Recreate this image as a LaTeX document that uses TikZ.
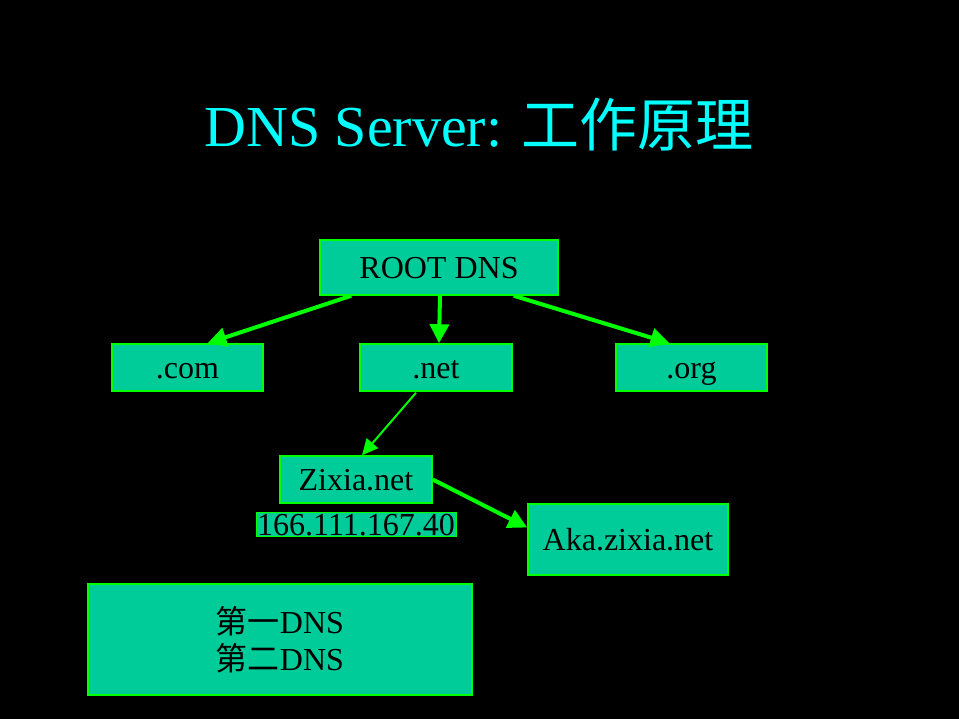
\documentclass[tikz,border=0pt]{standalone}
\usepackage{fontspec}
\setmainfont{Liberation Serif}
\newfontfamily\cjk{Noto Sans CJK SC}
\usetikzlibrary{arrows.meta,calc}
\definecolor{boxfill}{RGB}{0,204,153}
\definecolor{boxline}{RGB}{0,255,0}
\definecolor{titlecol}{RGB}{0,255,255}
\tikzset{
  dnsbox/.style={draw=boxline, line width=1.5pt, fill=boxfill, text=black, inner sep=0pt,
    font=\fontsize{32}{37}\selectfont, align=center},
  onerow/.style={text height=22pt, text depth=0pt},
  thickarrow/.style={draw=boxline, line width=4pt, -{Triangle[length=19pt 0,width=19pt 0]}},
  thinarrow/.style={draw=boxline, line width=2pt, -{Triangle[length=16pt 0,width=15pt 0]}}
}
\begin{document}
\begin{tikzpicture}[x=1pt,y=-1pt]
\fill[black] (0,0) rectangle (959,719);
\useasboundingbox (0,0) rectangle (959,719);
\node[text=titlecol, font=\fontsize{58}{66}\selectfont, anchor=base] (title) at (479,147) {DNS Server: {\cjk 工作原理}};
\node[dnsbox, onerow, minimum width=238pt, minimum height=55pt] (root) at (439,267.5) {ROOT DNS};
\node[dnsbox, onerow, minimum width=151pt, minimum height=47pt] (com) at (187.5,367.5) {.com};
\node[dnsbox, onerow, minimum width=152pt, minimum height=47pt] (net) at (436,367.5) {.net};
\node[dnsbox, onerow, minimum width=151pt, minimum height=47pt] (org) at (691.5,367.5) {.org};
\node[dnsbox, onerow, minimum width=152pt, minimum height=47pt] (zixia) at (356,479.5) {Zixia.net};
\node[dnsbox, line width=1pt, minimum width=200pt, minimum height=24pt] (ip) at (356,524) {};
\node[font=\fontsize{32}{37}\selectfont, text=black, inner sep=0pt, anchor=base] (iptext) at (356,535) {166.111.167.40};
\node[dnsbox, onerow, minimum width=200pt, minimum height=71pt] (aka) at (628,539.5) {Aka.zixia.net};
\node[dnsbox, minimum width=384pt, minimum height=111pt] (second) at (280,639.5) {{\cjk 第一}DNS\\{\cjk 第二}DNS};
\draw[thickarrow] ($(root.south west)+(32,0)$) -- ($(com.north)+(20,0)$);
\draw[thickarrow] ($(root.south)+(1,0)$) -- (root.south |- net.north);
\draw[thickarrow] ($(root.south east)+(-45,0)$) -- ($(org.north)+(-22,0)$);
\draw[thinarrow] ($(net.south)+(-20,1)$) -- ($(zixia.north)+(6,0)$);
\draw[thickarrow] ($(zixia.east)+(0,0)$) -- ($(aka.west)+(0,-12)$);
\end{tikzpicture}
\end{document}
